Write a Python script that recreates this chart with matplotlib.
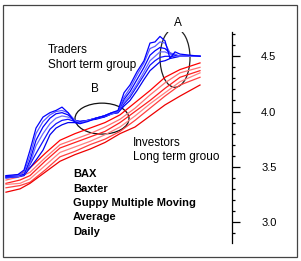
import matplotlib
matplotlib.use("Agg")
import matplotlib.pyplot as plt
from matplotlib.patches import Ellipse, Rectangle
from matplotlib.ticker import MultipleLocator

# -- DATA --
days_short = [6, 18, 24, 30, 36, 43, 50, 56, 62, 68, 75, 80, 88, 96, 104,
              112, 118, 124, 130, 137, 144, 150, 155, 160, 165, 170, 175, 180, 190, 200]

# short term group (traders), fastest to slowest
short_1 = [3.42, 3.43, 3.47, 3.65, 3.85, 3.95, 3.99, 4.01, 4.04, 3.99, 3.90, 3.89, 3.91, 3.94, 3.96,
           3.99, 4.01, 4.17, 4.24, 4.36, 4.46, 4.62, 4.63, 4.68, 4.64, 4.48, 4.54, 4.52, 4.51, 4.50]
short_2 = [3.42, 3.42, 3.45, 3.60, 3.80, 3.91, 3.97, 4.00, 4.01, 3.99, 3.92, 3.90, 3.92, 3.94, 3.96,
           3.99, 4.00, 4.13, 4.21, 4.33, 4.44, 4.57, 4.59, 4.63, 4.62, 4.53, 4.52, 4.50, 4.50, 4.50]
short_3 = [3.41, 3.42, 3.43, 3.56, 3.74, 3.86, 3.94, 3.98, 3.99, 3.97, 3.92, 3.91, 3.92, 3.94, 3.96,
           3.99, 4.00, 4.11, 4.18, 4.29, 4.40, 4.51, 4.55, 4.58, 4.57, 4.53, 4.51, 4.50, 4.50, 4.50]
short_4 = [3.41, 3.41, 3.43, 3.53, 3.69, 3.80, 3.89, 3.94, 3.96, 3.95, 3.92, 3.91, 3.92, 3.94, 3.96,
           3.98, 4.00, 4.09, 4.15, 4.25, 4.36, 4.46, 4.50, 4.54, 4.54, 4.52, 4.50, 4.50, 4.50, 4.50]
short_5 = [3.40, 3.41, 3.43, 3.52, 3.62, 3.73, 3.84, 3.89, 3.92, 3.93, 3.91, 3.91, 3.92, 3.94, 3.95,
           3.98, 3.99, 4.07, 4.13, 4.23, 4.33, 4.42, 4.46, 4.49, 4.50, 4.50, 4.50, 4.50, 4.50, 4.50]
short_6 = [3.40, 3.41, 3.42, 3.49, 3.56, 3.65, 3.79, 3.85, 3.88, 3.90, 3.90, 3.90, 3.92, 3.93, 3.95,
           3.98, 3.99, 4.05, 4.10, 4.19, 4.29, 4.37, 4.41, 4.45, 4.46, 4.48, 4.49, 4.50, 4.50, 4.50]

days_long = [6, 20, 30, 45, 60, 75, 90, 105, 120, 135, 150, 165, 180, 200]

# long term group (investors), top to bottom
long_1 = [3.41, 3.43, 3.49, 3.62, 3.74, 3.80, 3.85, 3.90, 3.97, 4.08, 4.19, 4.31, 4.38, 4.44]
long_2 = [3.38, 3.41, 3.45, 3.58, 3.70, 3.75, 3.80, 3.86, 3.93, 4.03, 4.15, 4.26, 4.35, 4.40]
long_3 = [3.35, 3.38, 3.42, 3.55, 3.67, 3.72, 3.77, 3.82, 3.90, 4.00, 4.10, 4.21, 4.31, 4.37]
long_4 = [3.34, 3.35, 3.39, 3.51, 3.63, 3.68, 3.73, 3.79, 3.86, 3.96, 4.07, 4.17, 4.27, 4.35]
long_5 = [3.31, 3.33, 3.36, 3.47, 3.59, 3.64, 3.70, 3.75, 3.82, 3.92, 4.03, 4.14, 4.24, 4.31]
long_6 = [3.27, 3.30, 3.35, 3.45, 3.55, 3.61, 3.66, 3.72, 3.80, 3.86, 3.96, 4.06, 4.14, 4.24]

ticks_major = [3.0, 3.5, 4.0, 4.5]
tick_labels = ["3.0", "3.5", "4.0", "4.5"]

notes_bold = ["BAX", "Baxter", "Guppy Multiple Moving", "Average", "Daily"]

W, H = 301, 261
fig = plt.figure(figsize=(W / 100, H / 100), dpi=100)
fig.patch.set_facecolor("white")

# outer frame
fig.patches.append(Rectangle((3 / W, 4 / H), 294 / W, 252 / H, transform=fig.transFigure,
                             fill=False, edgecolor="#444444", linewidth=0.9))

ax = fig.add_axes([4 / W, 18 / H, 228 / W, 211 / H])
ax.set_xlim(4, 232)
ax.set_ylim(2.81, 4.72)
ax.patch.set_alpha(0)

blues = ["#0000ff", "#5a5aff", "#0000ff", "#6a6aff", "#1010ff", "#0000ee"]
reds = ["#ff0000", "#ff7070", "#ff2020", "#ff8080", "#ff4040", "#ee0000"]

for ys, c in zip([long_1, long_2, long_3, long_4, long_5, long_6], reds):
    ax.plot(days_long, ys, color=c, linewidth=0.9)
for ys, c in zip([short_6, short_5, short_4, short_3, short_2, short_1], blues[::-1]):
    ax.plot(days_short, ys, color=c, linewidth=0.9)

# circled areas
ax.add_patch(Ellipse((102, 3.936), 54, 0.28, fill=False, edgecolor="#111111", linewidth=0.9))
ax.add_patch(Ellipse((175, 4.486), 30, 0.533, fill=False, edgecolor="#222222", linewidth=0.9))

# price axis on the right
for s in ["top", "left", "bottom"]:
    ax.spines[s].set_visible(False)
ax.spines["right"].set_linewidth(0.9)
ax.set_xticks([])
ax.yaxis.tick_right()
ax.set_yticks(ticks_major)
ax.set_yticklabels(tick_labels)
ax.yaxis.set_minor_locator(MultipleLocator(0.1))
ax.tick_params(axis="y", which="major", direction="out", length=6, width=0.9,
               pad=15, labelsize=8)
ax.tick_params(axis="y", which="minor", direction="out", length=2.5, width=0.9)
for lab in ax.get_yticklabels():
    lab.set_fontfamily("Liberation Sans")

fs = 8.5
def txt(x, y, s, **kw):
    fig.text(x / W, 1 - y / H, s, fontsize=kw.pop("fontsize", fs), family="Liberation Sans",
             va="baseline", **kw)

txt(178, 26, "A", ha="center")
txt(48, 53, "Traders")
txt(48, 68, "Short term group")
txt(95, 92, "B", ha="center")
txt(133, 146, "Investors")
txt(133, 160, "Long term grouo")
for i, s in enumerate(notes_bold):
    txt(73, 177 + i * 14.5, s, fontsize=8, fontweight="bold")

fig.savefig("out.png", dpi=100)
